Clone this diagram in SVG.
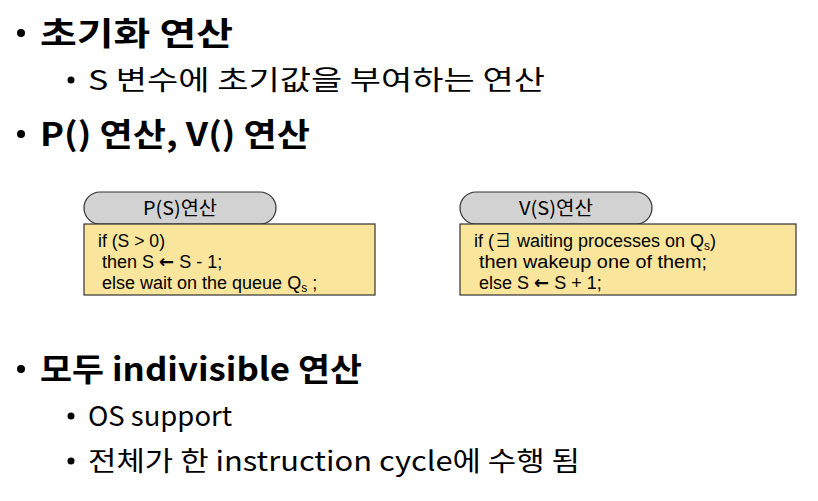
<svg xmlns="http://www.w3.org/2000/svg" width="818" height="501" viewBox="0 0 818 501">
<style>
.b{font-family:"Noto Sans CJK KR","Open Sans",sans-serif;font-weight:700;font-size:32px;fill:#000}
.s{font-family:"Noto Sans CJK KR","Open Sans",sans-serif;font-weight:400;font-size:27px;fill:#000}
.dot{fill:#000}
.pill{fill:#d2d2d2;stroke:#333;stroke-width:1.2}
.box{fill:#fae59d;stroke:#333;stroke-width:1.2}
.t{font-family:"Liberation Sans","Noto Sans CJK KR",sans-serif;font-size:18px;fill:#000}
.ar{font-family:"DejaVu Sans",sans-serif;font-weight:700;font-size:18px}
.h{font-family:"Noto Sans CJK KR","Open Sans",sans-serif;font-size:19px;fill:#000}
</style>
<rect width="818" height="501" fill="#fff"/>
<g id="bullets">
<circle class="dot" cx="21" cy="33" r="4"/>
<text class="b" x="40" y="45" textLength="193" lengthAdjust="spacingAndGlyphs">초기화 연산</text>
<circle class="dot" cx="71" cy="80" r="3.5"/>
<text class="s" x="88" y="90" textLength="457" lengthAdjust="spacingAndGlyphs">S 변수에 초기값을 부여하는 연산</text>
<circle class="dot" cx="21" cy="134" r="4"/>
<text class="b" x="40" y="146" textLength="270" lengthAdjust="spacingAndGlyphs">P() 연산, V() 연산</text>
<circle class="dot" cx="21" cy="369" r="4"/>
<text class="b" x="40" y="381" textLength="322" lengthAdjust="spacingAndGlyphs">모두 indivisible 연산</text>
<circle class="dot" cx="71" cy="416" r="3.5"/>
<text class="s" x="88" y="426" textLength="144" lengthAdjust="spacingAndGlyphs">OS support</text>
<circle class="dot" cx="71" cy="461" r="3.5"/>
<text class="s" x="88" y="471" textLength="492" lengthAdjust="spacingAndGlyphs">전체가 한 instruction cycle에 수행 됨</text>
</g>
<g id="p-op">
<rect class="pill" x="84" y="192" width="192" height="32" rx="16"/>
<text class="h" x="180" y="215" text-anchor="middle" textLength="74" lengthAdjust="spacingAndGlyphs">P(S)연산</text>
<rect class="box" x="84" y="224" width="291" height="71"/>
<text class="t" x="98" y="247" textLength="67" lengthAdjust="spacingAndGlyphs">if (S &gt; 0)</text>
<text class="t" x="102" y="268">then S <tspan class="ar">←</tspan> S - 1;</text>
<text class="t" x="102" y="289">else wait on the queue Q<tspan font-size="12" dy="3">s</tspan><tspan dy="-3"> ;</tspan></text>
</g>
<g id="v-op">
<rect class="pill" x="460" y="192" width="192" height="32" rx="16"/>
<text class="h" x="556" y="215" text-anchor="middle" textLength="74" lengthAdjust="spacingAndGlyphs">V(S)연산</text>
<rect class="box" x="460" y="224" width="336" height="71"/>
<text class="t" x="474" y="247">if (∃ waiting processes on Q<tspan font-size="12" dy="3">s</tspan><tspan dy="-3">)</tspan></text>
<text class="t" x="479" y="268" textLength="228" lengthAdjust="spacingAndGlyphs">then wakeup one of them;</text>
<text class="t" x="479" y="289">else S <tspan class="ar">←</tspan> S + 1;</text>
</g>
</svg>
